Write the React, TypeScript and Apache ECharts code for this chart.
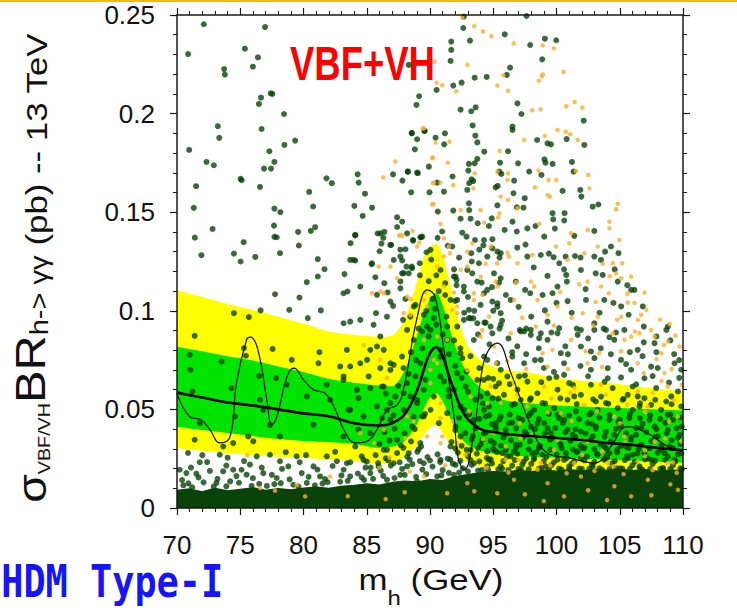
import React, { useEffect, useRef } from 'react';
import * as echarts from 'echarts';

// ---------- band / line data (m_h in GeV, sigma*BR in pb) ----------
const bandMass = [70,72,74,76,78,80,82,84,86,87,88,89,89.5,90,90.5,91,91.5,92,92.5,93,94,95,96,98,100,102,104,106,108,110];
const yellowHigh = [.1105,.107,.1035,.1005,.097,.0935,.0895,.0878,.0868,.0875,.096,.1157,.127,.1325,.134,.128,.116,.102,.09,.082,.075,.0715,.070,.0685,.066,.0645,.0635,.062,.0605,.059];
const greenHigh = [.0818,.0795,.077,.0748,.0718,.069,.0655,.0635,.062,.0617,.070,.088,.0985,.106,.109,.103,.092,.082,.074,.068,.061,.057,.0545,.053,.052,.0515,.051,.0505,.050,.0495];
const expected = [.0585,.056,.0535,.052,.050,.048,.0465,.043,.0418,.043,.0475,.060,.070,.0785,.0815,.077,.067,.058,.050,.045,.040,.0385,.0375,.0365,.0355,.0345,.033,.032,.0305,.0292];
const greenLow = [.0412,.0395,.038,.0365,.035,.034,.0333,.0325,.0305,.031,.034,.043,.050,.056,.058,.054,.047,.040,.035,.032,.029,.0275,.027,.026,.0255,.025,.0245,.024,.0235,.023];
const yellowLow = [.0303,.029,.0278,.0268,.026,.0253,.0246,.024,.0225,.023,.026,.032,.037,.041,.042,.038,.033,.028,.025,.023,.021,.020,.0195,.019,.0185,.018,.0175,.017,.0165,.016];

const obsMass = [70,71,71.9,72.6,73.4,74.2,74.7,75.5,75.8,76.4,77.1,77.5,77.9,78.7,79.25,80,80.8,81.7,82.4,83.2,84.1,85,85.8,86.6,87.4,87.9,89,89.8,90.4,91.1,91.9,92.2,92.7,93.5,94,94.5,95.3,96.4,98,99.3,101.1,103,104.3,105.6,107.2,108.8,110];
const observed = [.058,.0464,.0447,.0397,.033,.0363,.0633,.0853,.0866,.0802,.0549,.0422,.0464,.0667,.0709,.065,.0599,.0582,.0515,.0397,.033,.0338,.0397,.0498,.0523,.060,.0971,.1106,.1072,.0802,.0464,.026,.0194,.0396,.065,.0785,.0836,.0684,.0413,.0278,.0253,.0228,.0312,.0413,.0379,.0312,.0287];

// top edge of the solid carpet of points near zero
const denseMass = [70,71,72,73,74,75,76,77,78,79,80,81,82,83,84,85,86,87,88,89,90,91,92,93,94,95,96,97,98,99,100,101,102,103,104,105,106,107,108,109,110];
const denseTop = [.0085,.0092,.0078,.0095,.0082,.009,.0098,.0085,.0094,.0088,.0097,.0102,.0095,.0105,.011,.0118,.0112,.0125,.0132,.0128,.014,.0135,.0155,.0165,.0175,.018,.0178,.0186,.018,.0188,.0183,.019,.0184,.0192,.0186,.0193,.0185,.019,.0183,.0188,.0186];

// ---------- scan points: flat [mh, sigma, mh, sigma, ...] ----------
const greenUpperLeft = [72.12,.2453,76.96,.2439,70.88,.2302,75.37,.2329,76.40,.2285,76.0,.2238,73.73,.2226,73.78,.2198,77.41,.2103,77.54,.21,76.64,.2081,76.48,.2049,78.46,.1998,73.23,.1936,73.34,.1877,76.69,.1922,79.34,.1863,78.49,.1841,70.96,.1816,77.3,.1809,72.33,.1755,72.91,.1738,77.7,.1755,76.88,.1721,77.43,.1721,75.03,.1669,75.11,.1662,71.51,.1632,76.56,.1628,81.82,.1672,82.24,.1647,84.28,.1692,84.36,.165,80.45,.1603,84.86,.1594,71.33,.1522,77.7,.1518,78.17,.15,80.76,.1529,84.02,.1532,85.42,.1523,84.68,.1481,77.67,.1432,80.92,.1424,80.58,.1405,79.57,.14,72.81,.1415,71.41,.1371,77.7,.1375,77.88,.1373,75.27,.1348,79.63,.1331,71.93,.1282,74.5,.129,76.19,.1273,75.03,.125,81.13,.1262,84.09,.1255,83.72,.1343,84.09,.1382,85.86,.1392,86.39,.14,86.31,.137,86.16,.1341,86.92,.1334,87.4,.1474,87.4,.1425,87.8,.1452,88.06,.1312,88.67,.1356,89.28,.1373,87.08,.1692,87.82,.166,88.25,.1704,89.04,.1698,88.51,.1601,89.91,.1731,89.96,.1601,88.56,.1902,88.98,.187,88.8,.1819,89.57,.1912,88.93,.2044,89.14,.2088,88.32,.2247,89.73,.1297,87.8,.1255,85.39,.1236];
const greenUpperRight = [92.68,.2492,97.63,.2495,92.63,.2434,91.68,.2365,93.16,.237,91.68,.2323,91.63,.2267,95.91,.2402,97.92,.2348,99.08,.238,99.98,.2372,98.87,.2275,96.33,.2233,96.07,.2196,94.48,.2186,93.53,.2182,92.5,.2157,91.84,.2142,90.52,.212,96.91,.2052,92.42,.202,93.26,.2012,93.61,.2032,97.23,.1998,96.52,.1934,96.52,.1917,93.37,.194,88.56,.19,89.56,.1912,90.44,.1878,91.18,.19,91.12,.1844,93.58,.1888,93.74,.1854,98.47,.1866,99.29,.1849,99.56,.1844,100.8,.1871,102.15,.1964,102.2,.1841,94.29,.1807,93.74,.177,93.53,.1748,93.08,.1745,93.03,.1711,95.54,.1751,95.64,.1694,95.48,.1706,96.17,.1809,96.96,.1748,99.05,.1768,99.13,.1751,99.69,.1745,101.22,.1755,101.35,.1706,88.98,.1701,88.24,.1707,93.29,.1667,93.42,.1658,93.1,.1647,92.95,.1613,91.78,.1681,90.57,.165,91.1,.1604,95.35,.1633,95.19,.1626,96.65,.166,97.84,.1706,96.6,.1596,98.81,.1689,100.48,.1608,101.88,.1613,101.96,.1579,102.86,.1528,103.31,.1539,93.08,.1545,93.1,.1511,95.33,.1535,97.49,.1571,97.39,.1523,96.86,.1525,99.69,.1495,99.74,.1464,100.64,.1495,100.61,.1458,102.99,.1405,90.62,.1503,91.84,.1508,92.42,.1467,93.21,.1467,93.77,.1444,94.88,.1469,94.66,.143,95.9,.141,96.52,.1452,96.86,.1402,97.7,.1418,97.55,.1336,98.34,.143,99.03,.1376,99.87,.1417,101.41,.138,88.66,.1359,89.25,.1373,88.14,.1224,88.56,.1224,87.66,.1275,92.89,.1376,93.56,.1359,94.22,.1332,94.93,.1363,95.33,.13,95.59,.1292,94.53,.1275,93.26,.1292,97.7,.1275,98.76,.1283,99.77,.1272,100.22,.1241,100.72,.1275,101.46,.1278,102.99,.1275,103.52,.1258,104.31,.1326,103.84,.13,104.9,.1292,106.16,.1106,106.82,.1022,108.68,.0903,93.74,.1148,94.08,.1143,93.34,.119,95.59,.1165,95.46,.1143,96.78,.1148,99.29,.1177,100.77,.1182,100.82,.1148,101.93,.1207,103.65,.1182,104.84,.1148,105.9,.1106,91.89,.1174,92.1,.1157,92.68,.1098,94.27,.1089,94.93,.1047,95.33,.1038,96.38,.1055,97.52,.1106,97.92,.1089,99.69,.1089,100.08,.1123,99.08,.1002,100.88,.1049,102.33,.1055,103.78,.1055,105.11,.1022,93.42,.0962,94.4,.094,95.59,.0988,97.1,.0903,97.44,.0895,97.97,.0878,98.63,.0861,99.29,.0945,100.08,.0886,101.93,.0903,102.99,.0903,103.73,.091,104.18,.0866,105.37,.0903,88.72,.1022,88.45,.097,87.87,.0954,91.36,.092,92.68,.0954,93.21,.0962,87.79,.119,87.66,.131,88.32,.119];
const greenLeft = [78.14,.1292,80.26,.1145,81.13,.1174,81.66,.1211,83.96,.1258,86.02,.1302,88.58,.1216,89.19,.1241,83.24,.1186,83.48,.1098,77.75,.1084,79.68,.1067,78.88,.1005,76.61,.1002,81.37,.1002,80.34,.0963,74.5,.0988,75.68,.0968,83.17,.0937,84.49,.0954,85.73,.0988,86.07,.087,85.68,.117,86.39,.114,86.65,.1093,87.08,.1025,88.06,.106,87.92,.1191,87.66,.1149,85.28,.0802,86.34,.0802,86.87,.0734,87.13,.0726,85.02,.0751,71.4,.0873,71.0,.0777,71.06,.0701,71.22,.0591,73.52,.0743,74.31,.0608,75.29,.0811,75.45,.0772,76.5,.067,77.56,.0807,77.83,.0659,79.07,.0751,78.67,.0625,80.26,.0566,81.26,.079,81.18,.0734,81.84,.0625,82.11,.0549,82.9,.0718,83.69,.0718,83.17,.0667,84.35,.0557,85.28,.0608,86.07,.0709,86.34,.0616,86.87,.0532,87.92,.0583,88.45,.0566,88.19,.0633,88.98,.0532,89.51,.06,89.51,.0464,88.85,.0667,89.38,.0895,89.77,.092,89.51,.098,90.3,.0963,90.83,.0802,91.1,.0642,91.49,.0566,91.89,.0599,92.42,.0515,92.55,.076,92.89,.0692,93.08,.0963,92.15,.1055,92.68,.1123,71.8,.043,71.4,.0346,73.65,.0312,74.57,.0464,76.56,.0549,76.82,.0498,77.35,.0422,80.79,.0422,78.14,.0363,84.35,.0397,83.69,.0498,86.6,.0498,75.63,.0363,76.03,.0338,74.44,.0329];
const greenLowLeft = [70.87,.0279,71.8,.0232,72.38,.0233,70.21,.0194,70.74,.0177,71.53,.0174,73.65,.0186,74.44,.0194,73.38,.027,75.1,.0194,75.5,.0169,75.76,.022,76.3,.0262,77.35,.027,78.14,.0237,76.82,.0177,77.88,.0152,78.8,.0211,79.46,.0262,79.86,.0177,80.79,.0211,81.31,.016,81.84,.0262,82.64,.0237,83.17,.0194,80.26,.0127,73.12,.0127,72.1,.013,74.9,.0128,76.5,.0122,78.2,.0126,81.9,.0131,82.9,.0133,70.5,.0115,71.2,.0105,73.9,.011,77.1,.0112,79.2,.0118,80.9,.0115,70.4,.0142,71.1,.0205,71.7,.0155,72.6,.0188,73.2,.0148,73.9,.0215,74.7,.0162,75.3,.0238,76.0,.0151,76.7,.0205,77.5,.0168,78.3,.0198,78.9,.0145,79.7,.0232,80.4,.0158,81.1,.0195,81.7,.0147,82.3,.0213,83.0,.0165,83.7,.0232,84.3,.0175,84.9,.0205,70.9,.0125,72.9,.0108,74.2,.0135,75.9,.0112,77.7,.0121,79.6,.0109,81.5,.0124,83.5,.0138,84.8,.0142,72.0,.0268,74.0,.0255,78.6,.0283,80.2,.0268,82.5,.0285,84.6,.0262];
const greenPeak = [84.09,.1385,86.07,.1393,86.87,.1334,88.19,.1393,89.38,.1376,90.04,.1309,90.96,.1402,91.76,.1326,92.55,.1396,94.27,.1359,94.93,.1317,83.69,.1258,85.41,.1241,87.13,.1258,90.83,.1207,92.02,.1173,92.95,.1207,93.87,.1241,95.06,.119,83.16,.1089,84.49,.1123,85.81,.1081,86.87,.1047,87.66,.1114,88.85,.103,91.62,.1055,93.08,.1005,94.53,.1106,95.32,.1021,83.69,.0945,85.54,.0929,86.6,.097,88.19,.0903,92.15,.092,93.74,.0937,94.93,.0886,83.43,.0802,84.49,.0734,85.81,.0819,86.87,.07,87.79,.0768,88.72,.0852,89.24,.0734,90.04,.0903,90.83,.0768,91.36,.0852,92.42,.0785,93.47,.0852,94.27,.0768,95.32,.0734,83.16,.065,84.22,.0599,85.15,.0667,86.2,.0616,87.26,.0565,88.98,.0548,89.64,.065,90.3,.0565,90.83,.0667,91.49,.0599,92.15,.0684,92.81,.0616,93.74,.065,94.53,.0582,95.46,.0633,83.56,.0498,84.75,.0464,85.81,.0515,86.87,.0447,87.92,.0498,88.58,.0413,89.38,.0464,90.04,.0498,90.7,.043,91.36,.0481,92.02,.0413,92.68,.0498,93.47,.0447,94.27,.0498,95.19,.043,83.16,.0363,84.09,.0312,85.28,.038,86.34,.0295,87.39,.0346,88.32,.0278,89.24,.0329,91.62,.0312,92.42,.0363,93.21,.0295,94.13,.0346,95.06,.0295,83.43,.0227,84.75,.0244,85.94,.0211,87.13,.0227,88.19,.0211,89.51,.0227,90.83,.0244,92.02,.0219,93.47,.0227,94.53,.0211,83.69,.016,85.28,.0177,86.6,.0143,87.66,.0168,88.98,.0135,90.57,.016,91.89,.0168,93.34,.0152,94.8,.016,86.5,.058,87.5,.062,88.3,.068,88.9,.075,89.4,.081,89.9,.087,90.5,.093,91.0,.088,91.5,.078,92.0,.072,92.5,.066,93.0,.059,93.6,.055,87.9,.071,88.5,.079,89.1,.091,89.7,.1,90.2,.106,90.7,.11,91.3,.097,91.9,.085,92.4,.081,93.2,.077,93.9,.071,94.6,.066,89.9,.115,90.5,.118,91.2,.114,92.0,.105,92.7,.099,93.5,.1,94.3,.094,95.0,.1,95.7,.095,96.2,.086,96.9,.082,97.6,.078,98.3,.075,99.0,.071,99.8,.069,100.9,.078,101.9,.072,103.0,.076,104.3,.078,105.5,.073,106.8,.077,108.0,.071,109.3,.078];
const greenMidRight = [89.2,.118,90.1,.126,91.4,.133,92.3,.127,93.9,.131,95.5,.127,96.9,.132,98.2,.122,99.4,.129,100.6,.121,101.9,.127,103.1,.119,104.6,.121,105.6,.113,90.4,.101,91.2,.108,92.1,.113,93.0,.107,94.0,.103,94.9,.112,96.0,.108,97.0,.102,98.0,.097,98.9,.108,100.0,.104,101.2,.099,102.3,.111,103.4,.099,104.5,.104,105.7,.098,106.9,.092,107.9,.087,93.8,.088,94.7,.083,95.5,.091,96.5,.079,97.6,.091,98.6,.081,99.6,.089,100.7,.082,101.6,.091,102.5,.086,103.5,.081,104.7,.089,105.8,.079,106.9,.084,107.9,.079,109.0,.085,109.7,.075,90.6,.137,91.9,.121,93.3,.125];
const greenRightDense = [94.79,.092,95.59,.0929,97.17,.0895,97.97,.0903,98.76,.0886,99.29,.0853,100.21,.0912,100.34,.0785,101.67,.0878,101.93,.0819,102.99,.0937,102.72,.0794,103.91,.0903,104.57,.0853,105.1,.0751,106.42,.0802,107.75,.0836,108.8,.092,109.33,.0734,109.86,.0701,100.6,.0734,98.76,.0751,97.44,.0734,96.51,.0768,95.59,.0701,104.05,.0709,102.72,.0701,105.9,.0701,107.48,.0717,94.53,.0751,94.26,.065,95.19,.0616,96.11,.0667,96.91,.06,97.7,.0641,98.49,.0582,99.42,.0658,100.08,.06,101.0,.0633,101.93,.0574,102.72,.0625,103.52,.0565,104.44,.0608,105.23,.0549,106.03,.0616,106.95,.0557,107.88,.0608,108.67,.054,109.6,.0591,94.66,.0515,95.59,.0464,96.51,.0523,97.3,.0447,98.23,.0498,99.02,.0431,99.82,.0506,100.61,.0447,101.53,.049,102.46,.0431,103.25,.0498,104.18,.0447,104.84,.0506,105.76,.0456,106.56,.0515,107.35,.0447,108.27,.0498,109.2,.0447,109.86,.0515,94.26,.038,95.06,.0329,95.98,.0397,96.78,.032,97.7,.0371,98.63,.0312,99.55,.038,100.34,.032,101.27,.0371,102.06,.0304,102.86,.0363,103.78,.0312,104.57,.0371,105.5,.0312,106.29,.0371,107.22,.0304,108.01,.0363,108.94,.0312,109.73,.0371,94.66,.0245,95.59,.0211,96.38,.0262,97.3,.022,98.23,.0253,99.15,.0211,100.08,.0245,101.0,.0211,101.93,.0253,102.86,.0211,103.78,.0245,104.71,.0202,105.63,.0253,106.56,.0211,107.48,.0245,108.41,.0202,109.33,.0245,94.0,.0566,94.93,.0557,95.85,.0574,97.17,.0549,97.97,.0557,98.89,.0532,100.87,.0549,101.4,.0566,103.12,.054,103.91,.0532,105.63,.0574,106.42,.0566,107.48,.0523,109.07,.0566,95.19,.0413,96.25,.0431,97.97,.0413,99.29,.0405,100.87,.0397,101.93,.0388,103.12,.0413,105.1,.0413,106.69,.0405,107.75,.0413,108.8,.0397,109.9,.0413,94.53,.0287,95.72,.0278,96.64,.0287,98.1,.0278,98.89,.027,100.74,.0278,101.67,.0287,103.25,.027,104.18,.0278,106.03,.027,106.95,.0278,108.54,.0278,109.86,.0278,94.4,.0464,97.97,.0481,100.08,.0473,102.72,.0481,106.03,.0498,108.8,.0473,97.04,.0667,100.6,.0675,104.05,.0658,106.95,.0658];
const greenCarpet = [85.3,.0205,86.1,.019,86.9,.0215,87.8,.0198,88.6,.0222,89.4,.0195,90.2,.021,91.0,.0192,91.8,.0225,92.6,.0201,93.3,.0218,94.1,.0193,94.9,.0226,95.7,.0199,96.5,.0215,97.2,.0192,98.0,.0224,98.8,.0203,99.6,.0217,100.4,.0195,101.2,.0225,102.0,.0198,102.8,.0219,103.6,.0194,104.4,.0226,105.2,.02,106.0,.0217,106.8,.0193,107.6,.0224,108.4,.0202,109.2,.0216,109.9,.0197,85.7,.0268,86.5,.0252,87.4,.0279,88.2,.026,89.0,.0285,89.8,.0258,90.6,.0272,91.4,.025,92.2,.0281,93.0,.0263,93.7,.0276,94.5,.0254,95.3,.0283,96.1,.0262,96.9,.0275,97.6,.0251,98.4,.0282,99.2,.0259,100.0,.0271,100.8,.0253,101.6,.0284,102.4,.0261,103.2,.0274,104.0,.0255,104.8,.0283,105.6,.0264,106.4,.0277,107.2,.0252,108.0,.0281,108.8,.026,109.6,.0273,86.0,.0325,86.8,.0342,87.7,.0318,88.5,.0338,89.3,.0312,91.7,.0335,92.5,.0315,93.3,.0348,94.0,.0322,94.8,.034,95.6,.0316,96.4,.0344,97.1,.0321,97.9,.0339,98.7,.0314,99.5,.0347,100.3,.0324,101.1,.0341,101.9,.0317,102.7,.0345,103.5,.0323,104.3,.0338,105.1,.0315,105.9,.0346,106.7,.0321,107.5,.034,108.3,.0318,109.1,.0344,109.8,.0325,86.4,.0385,87.2,.0402,88.0,.0378,88.8,.04,92.0,.0395,92.8,.038,93.6,.0405,94.4,.0383,95.2,.0398,96.0,.0376,96.8,.0404,97.5,.0387,98.3,.04,99.1,.0379,99.9,.0406,100.7,.0384,101.5,.0399,102.3,.0377,103.1,.0403,103.9,.0386,104.7,.0401,105.5,.0378,106.3,.0405,107.1,.0385,107.9,.04,108.7,.0379,109.5,.0404,86.2,.0455,87.1,.047,88.7,.0462,89.6,.0478,92.3,.0458,93.1,.0476,93.9,.0452,94.7,.0471,95.5,.0449,96.3,.0474,97.0,.0457,97.8,.0468,98.6,.0451,99.4,.0477,100.2,.0455,101.0,.0469,101.8,.045,102.6,.0475,103.4,.0458,104.2,.0472,105.0,.0448,105.8,.0476,106.6,.0456,107.4,.047,108.2,.0452,109.0,.0474,109.8,.0459,94.2,.053,95.4,.0555,96.7,.0528,97.9,.0548,99.1,.053,100.3,.0556,101.6,.0527,102.9,.0551,104.1,.0529,105.3,.0553,106.6,.0531,107.8,.0549,109.1,.0526,95.0,.0655,96.3,.0628,97.5,.0672,98.8,.0638,100.0,.0665,101.3,.0624,102.5,.0668,103.8,.064,105.1,.0662,106.3,.0627,107.6,.0669,108.9,.0636,109.7,.066];
const greenCarpet2 = [84.6,.0155,85.5,.0148,86.3,.0163,87.2,.0152,88.0,.0168,88.9,.0158,89.7,.0172,90.9,.0165,91.5,.0178,92.3,.018,93.0,.0186,93.8,.019,94.6,.0192,95.4,.0196,96.2,.0193,97.0,.0198,97.8,.0196,98.6,.0199,99.4,.0197,100.2,.02,101.0,.0197,101.8,.02,102.6,.0198,103.4,.0201,104.2,.0197,105.0,.0201,105.8,.0198,106.6,.02,107.4,.0197,108.2,.0199,109.0,.0198,109.8,.0201,85.0,.0235,85.9,.0228,86.7,.0242,87.6,.0232,88.4,.0245,89.2,.0238,90.0,.0241,90.8,.0233,91.6,.0246,92.4,.0239,93.2,.0243,93.9,.0236,94.8,.0247,95.8,.0238,96.7,.0243,97.4,.0235,98.2,.0246,99.0,.0238,99.8,.0232,100.6,.0244,101.4,.0237,102.2,.0242,103.0,.0234,103.8,.0247,104.6,.0238,105.4,.0243,106.2,.0235,107.0,.0246,107.8,.0239,108.6,.0244,109.4,.0236,86.6,.0295,87.9,.0305,89.1,.0298,92.0,.0302,92.9,.0295,93.8,.0305,95.0,.03,96.0,.0295,96.8,.0305,97.8,.0298,98.6,.0304,99.5,.0296,100.4,.0303,101.3,.0297,102.2,.0305,103.0,.0299,103.9,.0303,104.8,.0296,105.7,.0304,106.5,.0298,107.4,.0305,108.3,.0297,109.2,.0303,93.4,.0365,95.8,.0358,97.4,.0362,99.7,.0356,101.5,.0359,103.8,.0362,105.9,.0358,107.8,.0361,109.6,.0357,94.9,.0425,96.5,.0433,98.5,.0428,100.5,.0431,102.8,.0426,104.9,.0435,106.8,.0427,108.6,.0432];

const orangeUpper = [87.24,.1757,86.31,.1676,88.62,.1405,87.56,.138,87.82,.138,89.14,.1346,89.43,.1926,90.17,.1774,90.23,.1647,90.17,.154,92.55,.2486,93.5,.2444,94.19,.2416,94.85,.2392,96.62,.2356,98.9,.2345,99.79,.2331,92.97,.2248,95.8,.2194,98.92,.2199,98.84,.2189,98.6,.2167,100.56,.2211,95.33,.2142,96.17,.2116,90.97,.2144,90.52,.2157,92.08,.2113,90.36,.2263,100.77,.2037,101.43,.2059,102.04,.203,98.08,.2017,98.74,.2022,89.51,.1925,90.44,.1853,91.55,.1858,97.44,.1866,99.08,.1887,100.08,.1917,100.74,.1908,101.09,.1895,101.67,.1866,90.22,.1778,91.41,.1751,95.51,.181,95.33,.1706,93.53,.1697,96.17,.1697,96.12,.1663,98.58,.1711,99.37,.1663,99.98,.1663,101.54,.1709,102.51,.1689,90.83,.165,90.3,.165,91.84,.1638,93.42,.1621,95.59,.1579,96.17,.1562,96.91,.152,98.29,.1626,99.29,.1587,99.48,.1579,102.59,.1621,104.84,.1542,104.71,.1515,90.25,.154,92.42,.1511,94.0,.1511,95.48,.1495,95.38,.1474,94.27,.1447,98.63,.1441,101.14,.1393,102.46,.141,104.18,.1452,104.18,.1418,104.97,.1359,103.26,.1326,90.83,.1441,91.1,.1368,91.49,.1326,91.57,.1292,92.95,.13,94.8,.1326,94.4,.1238,96.12,.1295,96.25,.1275,96.91,.1241,98.1,.1283,99.95,.1326,101.01,.1343,100.88,.1258,102.2,.1292,103.65,.1238,104.45,.1241,104.71,.119,105.9,.1174,105.19,.1241,106.95,.1092,106.16,.104,91.89,.1093,94.14,.1081,95.33,.1123,95.19,.1148,96.65,.1055,98.23,.1123,97.97,.1148,102.46,.1148,103.52,.1123,104.13,.1089,105.11,.1165,105.64,.1042,106.69,.098,106.43,.0954,107.48,.0903,107.75,.0869,108.49,.0827,108.81,.0844,108.94,.0934,88.19,.1072,88.45,.1059,89.64,.1094,93.48,.1089,99.29,.098,100.08,.1022,102.07,.0988,103.26,.097,105.11,.097,104.45,.0886,105.9,.0869];
const orangeMid = [85.41,.1089,86.07,.1098,85.94,.1225,86.87,.1225,87.92,.0988,88.45,.0979,84.75,.0827,86.6,.0659,88.05,.0354,90.04,.0701,90.3,.0751,90.57,.087,91.36,.0853,91.76,.1005,92.15,.1022,92.42,.1208,92.95,.1225,89.51,.1055,89.77,.1022,91.1,.1275,87.4,.1165,90.83,.0456,90.97,.0363,87.66,.1385,88.98,.1326,90.57,.1224,93.34,.1342,94.0,.1173,95.32,.1241,86.34,.1089,91.1,.1123,93.47,.1055,94.66,.097,92.15,.0988,89.51,.0852,90.57,.0734,92.95,.07,94.0,.0869,95.06,.0819,90.04,.0633,90.83,.0531,91.62,.065,93.21,.0565,94.53,.0531,86.07,.0751,88.19,.0464,89.77,.0363,90.83,.0329,92.15,.0329,94.0,.0396,86.34,.0396,84.49,.038,89.51,.016,92.95,.0126,91.36,.0075,75.55,.0267,76.56,.0101,77.75,.0088,79.46,.0118,80.13,.0059,82.11,.016];
const orangeRight = [94.13,.0903,96.38,.0886,98.36,.092,99.68,.0802,101.14,.0853,103.38,.0785,105.37,.0853,106.56,.0886,108.27,.0785,109.73,.0819,95.19,.0734,99.29,.0717,102.46,.0734,106.42,.0734,108.54,.0684,94.79,.0616,96.64,.0633,99.02,.0616,101.4,.0608,103.52,.0625,106.42,.0591,108.8,.0616,95.59,.0532,97.7,.0515,100.34,.0481,102.19,.0523,104.57,.0464,107.22,.0515,109.6,.0464,95.06,.038,97.17,.0354,100.08,.0346,102.46,.0337,105.37,.0363,107.75,.0337,109.86,.0337,95.98,.0245,98.76,.0228,101.4,.0228,104.05,.0228,106.42,.0236,108.8,.0228,96.64,.0143,99.29,.0126,101.93,.016,104.57,.011,107.22,.0143,109.6,.0092,95.32,.0075,100.6,.0059,105.9,.0059,96.0,.0312,98.0,.037,99.8,.0295,101.8,.0347,103.6,.0288,105.4,.0332,107.0,.0292,108.6,.0352,97.1,.043,99.3,.0485,101.2,.0441,103.2,.0492,105.0,.043,107.0,.0487,108.9,.0439,96.2,.018,98.5,.0195,100.8,.0176,103.0,.0188,105.3,.0172,107.6,.0192,109.5,.0179,94.2,.035,92.8,.027,91.8,.044,93.1,.049,88.7,.044,86.8,.0255,85.6,.033,88.0,.008,93.5,.0085,97.5,.007,102.5,.009,107.5,.0065,99.0,.0035,104.0,.004,109.0,.012,83.5,.006,86.5,.0045];
const orangeRight2 = [96.8,.1145,98.5,.1055,100.3,.1095,101.8,.1135,103.1,.1045,104.2,.1175,105.6,.1085,107.1,.1005,108.2,.0955,109.4,.0875,97.3,.0965,99.8,.0925,101.2,.0965,102.9,.0925,104.8,.0955,106.2,.0895,107.9,.0755,109.1,.0705,96.1,.0745,97.6,.0705,98.9,.0785,100.9,.0705,102.3,.0795,103.6,.0715,105.1,.0795,106.9,.0685,108.3,.0645,109.9,.0625,96.9,.0575,99.6,.0555,101.1,.0585,103.9,.0575,105.6,.0525,107.6,.0585,109.3,.0545,94.5,.0205,97.0,.0245,99.5,.0215,102.0,.0268,104.5,.0212,107.0,.0262,109.2,.0232,91.2,.0215,88.4,.0185,86.0,.0205];

const xTicks = { min: 70, max: 110, interval: 5 };
const yTicks = { min: 0, max: 0.25, interval: 0.05 };

const pairs = (a: number[]) => {
  const out: number[][] = [];
  for (let i = 0; i + 1 < a.length; i += 2) out.push([a[i], a[i + 1]]);
  return out;
};
const zip = (xs: number[], ys: number[]) => xs.map((x, i) => [x, ys[i]]);

const AXIS = '#1a1a1a';
const FONT = 'Liberation Sans, Arial, Helvetica, sans-serif';
const YELLOW = '#ffff00';
const GREEN = '#00e400';
const DOT_GREEN = '#094309';
const DOT_ORANGE = '#ffad2c';

const axisCommon = (showLabel: boolean) => ({
  axisLine: { show: true, onZero: false, lineStyle: { color: AXIS, width: 1.5 } },
  axisTick: { show: true, inside: false, length: 7, lineStyle: { color: AXIS, width: 1.2 } },
  minorTick: { show: true, splitNumber: 5, length: 4, lineStyle: { color: AXIS, width: 1 } },
  splitLine: { show: false },
  minorSplitLine: { show: false },
  axisLabel: showLabel
    ? { show: true, color: '#111', fontSize: 26, fontFamily: FONT }
    : { show: false },
  z: 10,
});

const bandSeries = (vals: number[], color: string, z: number) => ({
  type: 'line',
  data: zip(bandMass, vals),
  smooth: 0.3,
  symbol: 'none',
  silent: true,
  z,
  lineStyle: { width: 0, opacity: 0 },
  areaStyle: { color, opacity: 1 },
});

export default function App() {
  const ref = useRef<HTMLDivElement>(null);
  useEffect(() => {
    if (!ref.current) return;
    const chart = echarts.init(ref.current, null, { renderer: 'svg' });
    const greens = [
      ...pairs(greenUpperLeft), ...pairs(greenUpperRight), ...pairs(greenLeft),
      ...pairs(greenLowLeft), ...pairs(greenPeak), ...pairs(greenMidRight),
      ...pairs(greenRightDense), ...pairs(greenCarpet), ...pairs(greenCarpet2),
    ];
    const oranges = [...pairs(orangeUpper), ...pairs(orangeMid), ...pairs(orangeRight), ...pairs(orangeRight2)];
    const option: any = {
      animation: false,
      backgroundColor: '#ffffff',
      grid: { left: 177, right: 54, top: 15, bottom: 100 },
      xAxis: [
        { type: 'value', position: 'bottom', ...xTicks, ...axisCommon(true),
          axisLabel: { show: true, color: '#111', fontSize: 26, fontFamily: FONT, margin: 24 } },
        { type: 'value', position: 'top', ...xTicks, ...axisCommon(false) },
      ],
      yAxis: [
        { type: 'value', position: 'left', ...yTicks, ...axisCommon(true),
          axisLabel: { show: true, color: '#111', fontSize: 26, fontFamily: FONT, margin: 22 } },
        { type: 'value', position: 'right', ...yTicks, ...axisCommon(false) },
      ],
      series: [
        bandSeries(yellowHigh, YELLOW, 1),
        bandSeries(greenHigh, GREEN, 1),
        bandSeries(greenLow, YELLOW, 1),
        bandSeries(yellowLow, '#ffffff', 1),
        {
          type: 'line', data: zip(denseMass, denseTop), symbol: 'none', silent: true, z: 2,
          lineStyle: { width: 3, color: DOT_GREEN }, areaStyle: { color: DOT_GREEN, opacity: 1 },
        },
        {
          type: 'scatter', data: greens, symbol: 'circle', symbolSize: 6, silent: true, z: 3,
          progressive: 0, itemStyle: { color: DOT_GREEN },
        },
        {
          type: 'scatter', data: oranges, symbol: 'circle', symbolSize: 4.5, silent: true, z: 4,
          progressive: 0, itemStyle: { color: DOT_ORANGE },
        },
        {
          type: 'line', data: zip(bandMass, expected), smooth: 0.4, symbol: 'none', silent: true, z: 5,
          lineStyle: { color: '#000', width: 2.6 },
        },
        {
          type: 'line', data: zip(obsMass, observed), smooth: 0.45, symbol: 'none', silent: true, z: 6,
          lineStyle: { color: '#111', width: 1.2 },
        },
      ],
      graphic: [
        { type: 'rect', left: 0, top: 0, shape: { x: 0, y: 0, width: 737, height: 2 }, style: { fill: '#f4bc00' }, silent: true },
        {
          type: 'text', x: 290, y: 38.6, scaleX: 0.76,
          style: { text: 'VBF+VH', fill: '#ff0000', fontSize: 48, fontWeight: 'bold', fontFamily: FONT, align: 'left', verticalAlign: 'top' },
        },
        {
          type: 'text', x: -21, y: 559, scaleX: 0.82,
          style: { text: '2HDM Type-I', fill: '#1515f5', fontSize: 45, fontWeight: 'bold', fontFamily: 'DejaVu Sans Mono, monospace', align: 'left', verticalAlign: 'top' },
        },
        {
          type: 'text', x: 431, y: 566, scaleX: 1.2,
          style: {
            text: '{m|m}{s|h}{m| (GeV)}',
            align: 'center', verticalAlign: 'top', fill: '#111',
            rich: {
              m: { fontSize: 29, fontFamily: FONT, fill: '#111', verticalAlign: 'top', lineHeight: 42 },
              s: { fontSize: 20, fontFamily: FONT, fill: '#111', verticalAlign: 'bottom' },
            },
          },
        },
        {
          type: 'text', x: 52, y: 268, rotation: Math.PI / 2, scaleX: 1.16,
          style: {
            text: '{g|σ}{s|VBF/VH}{b|BR}{t|h-> γγ}{n| (pb) -- 13 TeV}',
            align: 'center', verticalAlign: 'bottom', fill: '#111',
            rich: {
              g: { fontSize: 40, fontFamily: FONT, fill: '#111', verticalAlign: 'bottom' },
              s: { fontSize: 17, fontFamily: FONT, fill: '#111', verticalAlign: 'bottom' },
              b: { fontSize: 42, fontFamily: FONT, fill: '#111', verticalAlign: 'bottom' },
              t: { fontSize: 25, fontFamily: FONT, fill: '#111', verticalAlign: 'bottom' },
              n: { fontSize: 30, fontFamily: FONT, fill: '#111', verticalAlign: 'bottom' },
            },
          },
        },
      ],
    };
    chart.setOption(option);
    return () => chart.dispose();
  }, []);
  return (
    <div
      ref={ref}
      style={{ position: 'fixed', left: 0, top: 0, width: 737, height: 608, background: '#fff' }}
    />
  );
}
